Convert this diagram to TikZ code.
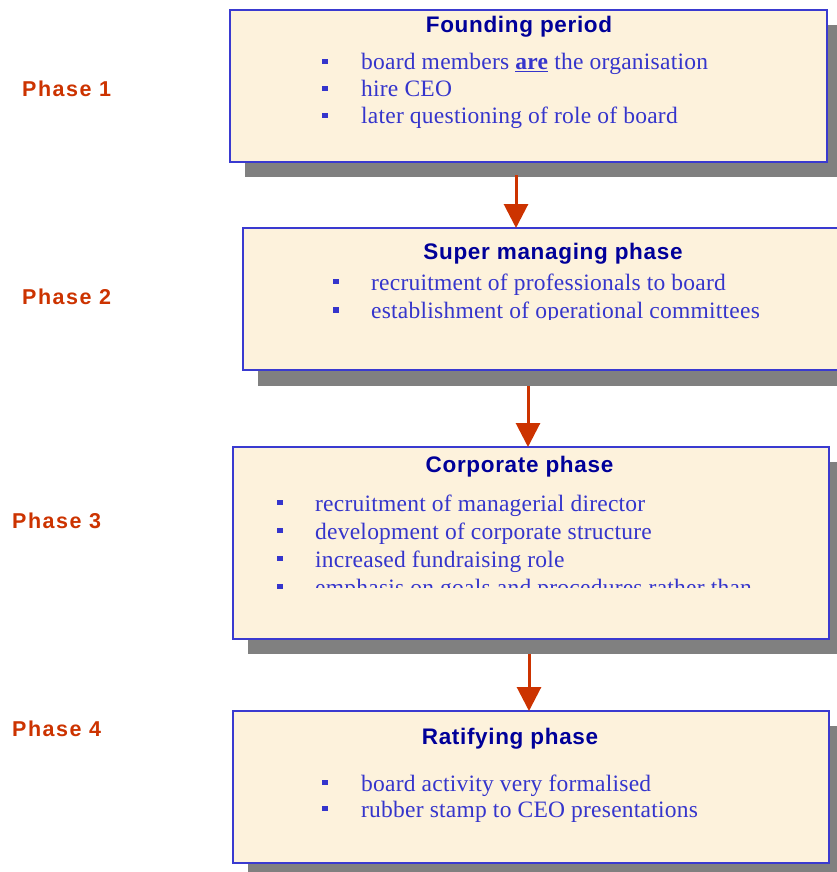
\documentclass[tikz,border=0pt]{standalone}
\usepackage{fontspec}
\setmainfont{Liberation Serif}[LetterSpace=1]
\newfontfamily\headfont{Liberation Sans}[LetterSpace=3]
\newfontfamily\phasefont{Liberation Sans}[LetterSpace=7]
\usetikzlibrary{arrows.meta,calc}
\definecolor{parch}{HTML}{FDF2DC}
\definecolor{bordblue}{HTML}{3A3AD0}
\definecolor{navy}{HTML}{000099}
\definecolor{bodyblue}{HTML}{3535CC}
\definecolor{rust}{HTML}{CC3300}
\definecolor{shade}{HTML}{808080}
\tikzset{
  box/.style={draw=bordblue, line width=2.4pt, fill=parch, rectangle, inner sep=0pt, anchor=north west},
  shadowbox/.style={fill=shade, rectangle, inner sep=0pt, anchor=north west},
  titletext/.style={inner sep=0pt, anchor=base, text=navy, font=\headfont\bfseries\fontsize{22.5}{26}\selectfont},
  itemtext/.style={inner sep=0pt, anchor=base west, text=bodyblue, font=\fontsize{23.5}{27}\selectfont},
  bulletsq/.style={fill=bodyblue, rectangle, minimum size=5.5pt, inner sep=0pt},
  phasetext/.style={inner sep=0pt, anchor=base west, text=rust, font=\phasefont\bfseries\fontsize{21.5}{25}\selectfont},
  arr/.style={draw=rust, line width=3pt, -{Triangle[length=24pt,width=24pt]}, shorten >=-1pt}
}
\begin{document}
\begin{tikzpicture}[x=1pt,y=-1pt]
\useasboundingbox (0,0) rectangle (837,872);
% shadows
\node[shadowbox, minimum width=597pt, minimum height=152pt] (s1) at (245,25) {};
\node[shadowbox, minimum width=600pt, minimum height=142pt] (s2) at (258,244) {};
\node[shadowbox, minimum width=596pt, minimum height=192pt] (s3) at (248,462) {};
\node[shadowbox, minimum width=596pt, minimum height=152pt] (s4) at (248,726) {};
% boxes
\node[box, minimum width=597pt, minimum height=152pt] (b1) at (229,9) {};
\node[box, minimum width=600pt, minimum height=142pt] (b2) at (242,227) {};
\node[box, minimum width=596pt, minimum height=192pt] (b3) at (232,446) {};
\node[box, minimum width=596pt, minimum height=152pt] (b4) at (232,710) {};
% phase labels
\node[phasetext] (p1) at (22,96.5) {Phase 1};
\node[phasetext] (p2) at (22,304.5) {Phase 2};
\node[phasetext] (p3) at (12,528.5) {Phase 3};
\node[phasetext] (p4) at (12,736.5) {Phase 4};
% box 1
\node[titletext] (t1) at (519,33) {Founding period};
\node[itemtext] (l11) at (361,70) {board members \underline{\textbf{are}} the organisation};
\node[itemtext] (l12) at (361,97) {hire CEO};
\node[itemtext] (l13) at (361,124) {later questioning of role of board};
\foreach \n in {l11,l12,l13} \node[bulletsq] at ($(\n.base west)+(-36,-8.5)$) {};
% box 2
\node[titletext] (t2) at (553,259) {Super managing phase};
\node[itemtext] (l21) at (371,290) {recruitment of professionals to board};
\begin{scope}
\clip (242,227) rectangle (837,319.5);
\node[itemtext] (l22) at (371,318.5) {establishment of operational committees};
\end{scope}
\foreach \n in {l21,l22} \node[bulletsq] at ($(\n.base west)+(-35,-8.5)$) {};
% box 3
\node[titletext] (t3) at (519.5,472) {Corporate phase};
\node[itemtext] (l31) at (315,511) {recruitment of managerial director};
\node[itemtext] (l32) at (315,539) {development of corporate structure};
\node[itemtext] (l33) at (315,567) {increased fundraising role};
\begin{scope}
\clip (232,446) rectangle (828,587);
\node[itemtext] (l34) at (315,595) {emphasis on goals and procedures rather than};
\end{scope}
\foreach \n in {l31,l32,l33,l34} \node[bulletsq] at ($(\n.base west)+(-35,-8.5)$) {};
% box 4
\node[titletext] (t4) at (510,744) {Ratifying phase};
\node[itemtext] (l41) at (361,791) {board activity very formalised};
\node[itemtext] (l42) at (361,817) {rubber stamp to CEO presentations};
\foreach \n in {l41,l42} \node[bulletsq] at ($(\n.base west)+(-36,-8.5)$) {};
% connectors
\coordinate (a1) at (516,175);
\coordinate (a2) at (528,386);
\coordinate (a3) at (529,654);
\draw[arr] (a1) -- (a1 |- b2.north);
\draw[arr] (a2) -- (a2 |- b3.north);
\draw[arr] (a3) -- (a3 |- b4.north);
\end{tikzpicture}
\end{document}
